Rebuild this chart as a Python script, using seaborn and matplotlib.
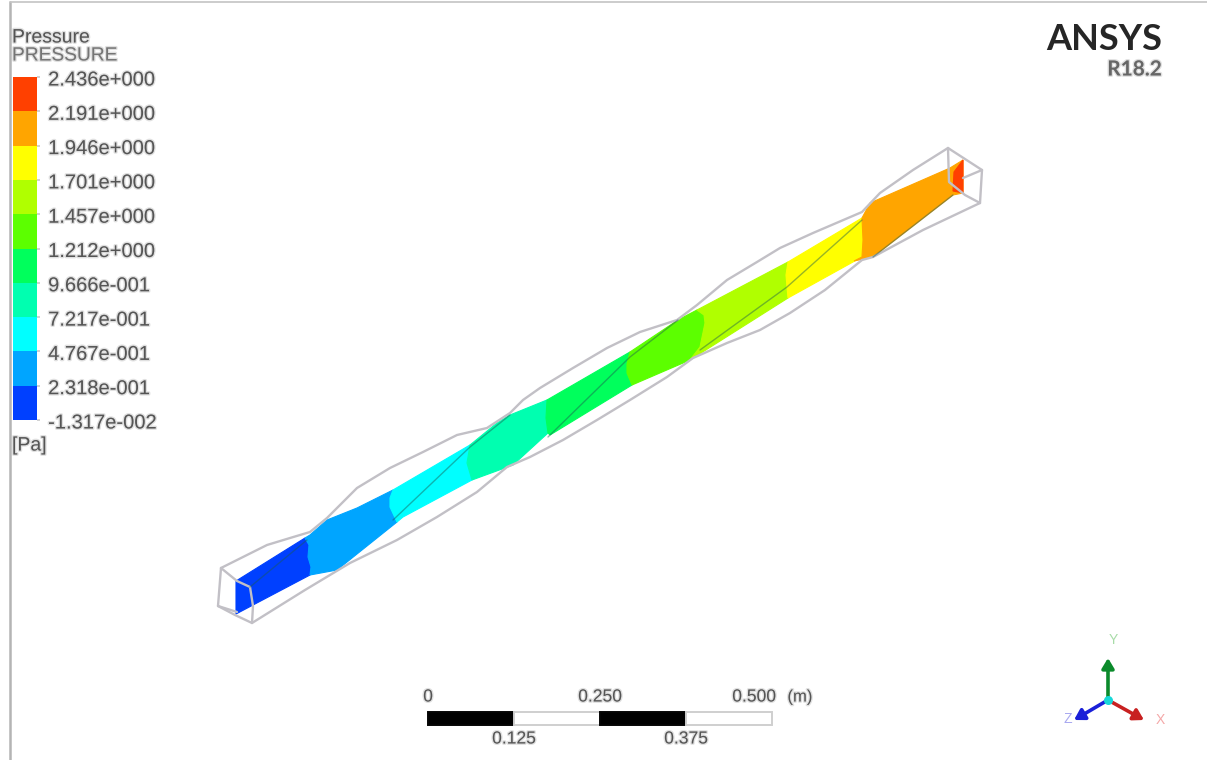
import numpy as np
import pandas as pd
import seaborn as sns
import matplotlib
matplotlib.use("Agg")
import matplotlib.pyplot as plt
import matplotlib.patheffects as pe
from matplotlib.colors import ListedColormap
from matplotlib.transforms import ScaledTranslation

# ---------- data ----------
legend_labels = ["2.436e+000", "2.191e+000", "1.946e+000", "1.701e+000", "1.457e+000", "1.212e+000",
                 "9.666e-001", "7.217e-001", "4.767e-001", "2.318e-001", "-1.317e-002"]
legend_values = [2.436, 2.191, 1.946, 1.701, 1.457, 1.212, 0.9666, 0.7217, 0.4767, 0.2318, -0.01317]
band_colors = ["#ff4000", "#ffa500", "#ffff00", "#b0ff00", "#5cff00",
               "#00ff5c", "#00ffb0", "#00ffff", "#00a5ff", "#0040ff"]

band_dark_blue = [(236, 581), (305, 538), (309, 545), (308, 557), (311, 567), (310, 575), (236, 614)]
band_light_blue = [(305, 538), (310, 535), (327, 520), (357, 508), (393, 490), (390, 498), (390, 507), (397, 522),
                   (337, 570), (310, 575), (311, 567), (308, 557), (309, 545)]
band_cyan = [(393, 490), (470, 445), (467, 463), (472, 480), (403, 517), (397, 522), (390, 507), (390, 498)]
band_teal = [(470, 445), (497, 423), (510, 415), (547, 400), (546, 418), (548, 433), (513, 465), (472, 480), (467, 463)]
band_green = [(547, 400), (630, 352), (627, 364), (627, 373), (632, 385), (550, 435), (548, 433), (546, 418)]
band_lime = [(630, 352), (678, 320), (697, 310), (704, 315), (705, 323), (700, 347), (690, 360), (632, 385),
             (627, 373), (627, 364)]
band_yellow_green = [(697, 310), (788, 262), (786, 275), (787, 287), (788, 298), (690, 360), (700, 347), (705, 323),
                     (704, 315)]
band_yellow = [(788, 262), (862, 218), (863, 240), (862, 257), (853, 262), (788, 298), (787, 287), (786, 275)]
band_orange = [(862, 218), (870, 203), (950, 168), (963, 160), (963, 193), (953, 195), (873, 257), (854, 261),
               (862, 257), (863, 240)]
band_red = [(954, 172), (963, 160), (963, 193), (953, 191)]
bands = [(band_dark_blue, band_colors[9]), (band_light_blue, band_colors[8]), (band_cyan, band_colors[7]),
         (band_teal, band_colors[6]), (band_green, band_colors[5]), (band_lime, band_colors[4]),
         (band_yellow_green, band_colors[3]), (band_yellow, band_colors[2]), (band_orange, band_colors[1]),
         (band_red, band_colors[0])]

wire_upper = [(221, 568), (267, 545), (290, 538), (310, 532), (327, 518), (357, 488), (390, 468), (423, 452),
              (457, 435), (487, 428), (510, 413), (523, 400), (540, 388), (573, 368), (607, 348), (640, 332),
              (677, 320), (697, 305), (727, 280), (757, 262), (780, 248), (813, 233), (862, 212), (880, 193),
              (913, 170), (948, 148)]
wire_lower = [(252, 623), (305, 590), (350, 563), (397, 540), (437, 517), (477, 492), (507, 467), (530, 457),
              (563, 440), (597, 420), (630, 400), (667, 377), (693, 358), (727, 343), (760, 330), (790, 313),
              (825, 290), (862, 260), (873, 257), (923, 230), (980, 203)]
wire_box_left = [(221, 568), (218, 606), (235, 615), (252, 623), (253, 606), (250, 587), (237, 581), (221, 568)]
wire_box_left2 = [(218, 606), (237, 612)]
wire_box_right = [(948, 148), (982, 170), (980, 203), (965, 195), (949, 182), (948, 148)]
wire_box_right2 = [(963, 178), (982, 170)]
wire_dark_1 = [(250, 587), (307, 540)]
wire_dark_2 = [(393, 520), (470, 447), (510, 415)]
wire_dark_3 = [(548, 437), (630, 357), (678, 320)]
wire_dark_4 = [(700, 350), (787, 287), (862, 220)]
wire_dark_5 = [(873, 257), (953, 195)]

scale_edges = [0, 0.125, 0.25, 0.375, 0.5]
scale_top_labels = ["0", "0.250", "0.500"]
scale_bottom_labels = ["0.125", "0.375"]

# ---------- style ----------
sns.set_theme(style="white")
plt.rcParams["font.family"] = ["Liberation Sans", "DejaVu Sans"]
W, H = 1207, 760
fig = plt.figure(figsize=(W / 100, H / 100), dpi=100, facecolor="white")
ax = fig.add_axes([0, 0, 1, 1])

soft = [pe.withStroke(linewidth=2.0, foreground="#9a9a9a", alpha=0.3)]
txt = "#555555"

# frame
ax.plot([9.5, 9.5], [2, H], color="#b4b4b4", lw=1.8)
ax.plot([9.5, W], [2, 2], color="#c4c4c4", lw=1.2)

# contour bands
for poly, c in bands:
    xs, ys = zip(*poly)
    ax.fill(xs, ys, color=c, lw=0.8, zorder=2)

# wire frame
for w in [wire_upper, wire_lower, wire_box_left, wire_box_left2, wire_box_right, wire_box_right2]:
    d = pd.DataFrame(w, columns=["x", "y"])
    sns.lineplot(data=d, x="x", y="y", sort=False, estimator=None, ax=ax, color="#c2c0c6", lw=1.7, zorder=3)
for w in [wire_dark_1, wire_dark_2, wire_dark_3, wire_dark_4, wire_dark_5]:
    d = pd.DataFrame(w, columns=["x", "y"])
    sns.lineplot(data=d, x="x", y="y", sort=False, estimator=None, ax=ax, color="#1c5a50", lw=1.0, alpha=0.45, zorder=4)
ax.set_xlim(0, W)
ax.set_ylim(H, 0)
ax.axis("off")

# legend heading
ax.text(12, 38, "Pressure", fontsize=14, color=txt, va="center", path_effects=soft)
ax.text(12, 56, "PRESSURE", fontsize=13.8, color="#757575", va="center", path_effects=soft)
ax.text(12, 446, "[Pa]", fontsize=14, color=txt, va="center", path_effects=soft)

# colour legend
cax = fig.add_axes([13 / W, 1 - 420 / H, 24 / W, 343 / H])
mids = (np.array(legend_values[:-1]) + np.array(legend_values[1:])) / 2
sns.heatmap(mids.reshape(-1, 1), ax=cax, cmap=ListedColormap(band_colors[::-1]), cbar=False,
            xticklabels=False, yticklabels=False)
cax.yaxis.tick_right()
cax.set_yticks(np.arange(len(legend_labels)))
cax.set_yticklabels(legend_labels, rotation=0, fontsize=14.5, color=txt, path_effects=soft)
cax.tick_params(axis="y", length=2, color="#cccccc", pad=6, right=True, left=False, labelright=True, labelleft=False)
shift = ScaledTranslation(0, -1 / 100, fig.dpi_scale_trans)
for lab in cax.get_yticklabels():
    lab.set_transform(lab.get_transform() + shift)

# logo
ax.text(1162, 39, "ANSYS", fontsize=26, fontweight="bold", color="#262626", ha="right", va="center",
        fontfamily=["Lato", "DejaVu Sans"])
ax.text(1162, 69.5, "R18.2", fontsize=15, fontweight="bold", color="#666666", ha="right", va="center",
        fontfamily=["Lato", "DejaVu Sans"], path_effects=soft)

# scale bar
x0, x1 = 428, 772
sc = (x1 - x0) / scale_edges[-1]
for i in range(4):
    left = x0 + scale_edges[i] * sc
    width = (scale_edges[i + 1] - scale_edges[i]) * sc
    ax.barh(718, width, left=left, height=13, color="black" if i % 2 == 0 else "white",
            edgecolor="#050505" if i % 2 == 0 else "#cfcfcf", lw=1.4, zorder=3)
for lab, e in zip(scale_top_labels, [0, 0.25, 0.5]):
    xx = x0 + e * sc
    if e == 0.5:
        xx -= 18
    ax.text(xx, 697, lab, fontsize=12.6, color=txt, ha="center", va="center", path_effects=soft)
ax.text(800, 697, "(m)", fontsize=12, color=txt, ha="center", va="center", path_effects=soft)
for lab, e in zip(scale_bottom_labels, [0.125, 0.375]):
    ax.text(x0 + e * sc, 739, lab, fontsize=12.6, color=txt, ha="center", va="center", path_effects=soft)

# axis triad
org = (1108, 700)
for end, c in [((1108, 658), "#0b8a2b"), ((1144, 720), "#c82020"), ((1074, 720), "#1a20d8")]:
    ax.annotate("", xy=end, xytext=org,
                arrowprops=dict(arrowstyle="-|>,head_width=0.3,head_length=0.5", color=c, lw=2.6, shrinkA=0, shrinkB=0),
                zorder=5)
ax.scatter([org[0]], [org[1]], s=30, color="#16d8d8", zorder=6)
ax.text(1113, 640, "Y", fontsize=10, color="#a8dca8", ha="center", va="center")
ax.text(1160, 720, "X", fontsize=10, color="#f4a8a8", ha="center", va="center")
ax.text(1068, 719, "Z", fontsize=10, color="#a8a8f0", ha="center", va="center")

fig.savefig("out.png", dpi=100, facecolor="white")
